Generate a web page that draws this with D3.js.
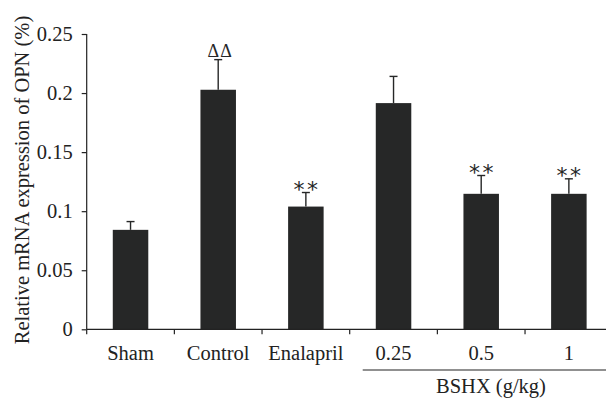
<!DOCTYPE html>
<html><head><meta charset="utf-8">
<script src="https://cdn.jsdelivr.net/npm/d3@7/dist/d3.min.js"></script>
<style>body{margin:0;background:#fff}svg{display:block}</style>
</head><body>
<svg id="c" width="606" height="401"></svg>
<script>
const categories = ["Sham", "Control", "Enalapril", "0.25", "0.5", "1"];
const means = [0.0842, 0.2028, 0.1039, 0.1915, 0.1147, 0.1147];
const errors = [0.0070, 0.0255, 0.0119, 0.0226, 0.0155, 0.0127];
const marks = ["", "ΔΔ", "**", "", "**", "**"];
const yTicks = [0, 0.05, 0.1, 0.15, 0.2, 0.25];
const yTickLabels = ["0", "0.05", "0.1", "0.15", "0.2", "0.25"];
const groupLabel = "BSHX (g/kg)";
const groupMembers = ["0.25", "0.5", "1"];
const yTitle = "Relative mRNA expression of OPN (%)";

const svg = d3.select("#c");
const font = "'Liberation Serif','Times New Roman',serif";
const fs = 20.5;
const ink = "#262727";
const x0 = 86.7, x1 = 612.7, yBase = 329.3, yTop = 34;

const x = d3.scaleBand().domain(categories).range([x0, x1]).paddingInner(0.595).paddingOuter(0.2975);
const y = d3.scaleLinear().domain([0, 0.25]).range([yBase, yTop]);
const gap = (x.step() - x.bandwidth()) / 2;
const cx = d => x(d) + x.bandwidth() / 2;

// bars
svg.append("g").selectAll("rect").data(categories).join("rect")
  .attr("x", d => x(d)).attr("width", x.bandwidth())
  .attr("y", (d, i) => y(means[i])).attr("height", (d, i) => y(0) - y(means[i]))
  .attr("fill", ink);

// error bars (upper only)
const eb = svg.append("g").attr("stroke", ink).attr("stroke-width", 1.4);
categories.forEach((c, i) => {
  const top = y(means[i] + errors[i]);
  eb.append("line").attr("x1", cx(c)).attr("x2", cx(c)).attr("y1", y(means[i])).attr("y2", top);
  eb.append("line").attr("x1", cx(c) - 4).attr("x2", cx(c) + 4).attr("y1", top).attr("y2", top);
});

// significance marks
const mg = svg.append("g").attr("fill", ink);
categories.forEach((c, i) => {
  const top = y(means[i] + errors[i]);
  const m = marks[i];
  if (!m) return;
  if (m.startsWith("Δ")) {
    mg.append("text").attr("x", cx(c) + 2).attr("y", top - 2.5).attr("text-anchor", "middle")
      .attr("font-family", font).attr("font-size", 18).attr("letter-spacing", 1).text(m);
  } else {
    [...m].forEach((ch, k) => {
      mg.append("text").attr("x", cx(c) + (k - 0.5) * 13.5).attr("y", top + 4)
        .attr("text-anchor", "middle").attr("font-family", "'DejaVu Sans',sans-serif")
        .attr("font-size", 22).text(ch);
    });
  }
});

// y axis
const yAxis = svg.append("g").attr("transform", `translate(${x0},0)`)
  .call(d3.axisLeft(y).tickValues(yTicks).tickSize(5).tickPadding(9).tickFormat((d, i) => yTickLabels[i]));
yAxis.selectAll("text").attr("font-family", font).attr("font-size", fs).attr("fill", "#222");
yAxis.selectAll("line,path").attr("stroke", "#222").attr("stroke-width", 1.2);
yAxis.select("path").attr("d", `M0,${yTop}V${yBase}`);

// x axis with boundary ticks
const xg = svg.append("g");
xg.append("line").attr("x1", x0).attr("x2", x1).attr("y1", yBase).attr("y2", yBase).attr("stroke", "#222").attr("stroke-width", 1.2);
xg.selectAll("line.t").data(categories).join("line").attr("class", "t")
  .attr("x1", d => x(d) - gap).attr("x2", d => x(d) - gap)
  .attr("y1", yBase).attr("y2", yBase + 5).attr("stroke", "#222").attr("stroke-width", 1.2);
xg.selectAll("text").data(categories).join("text")
  .attr("x", d => cx(d)).attr("y", 360)
  .attr("text-anchor", "middle").attr("font-family", font).attr("font-size", fs).attr("fill", "#222")
  .text(d => d);

// group bracket
const gStart = x(groupMembers[0]) - gap + 13;
svg.append("line").attr("x1", gStart).attr("x2", x1).attr("y1", 370).attr("y2", 370).attr("stroke", "#222").attr("stroke-width", 1.2);
svg.append("text").attr("x", 491).attr("y", 393).attr("text-anchor", "middle")
  .attr("font-family", font).attr("font-size", fs).attr("fill", "#222").text(groupLabel);

// y title
svg.append("text").attr("transform", "translate(29,180) rotate(-90)").attr("text-anchor", "middle")
  .attr("font-family", font).attr("font-size", fs).attr("fill", "#222").text(yTitle);
</script>
</body></html>
